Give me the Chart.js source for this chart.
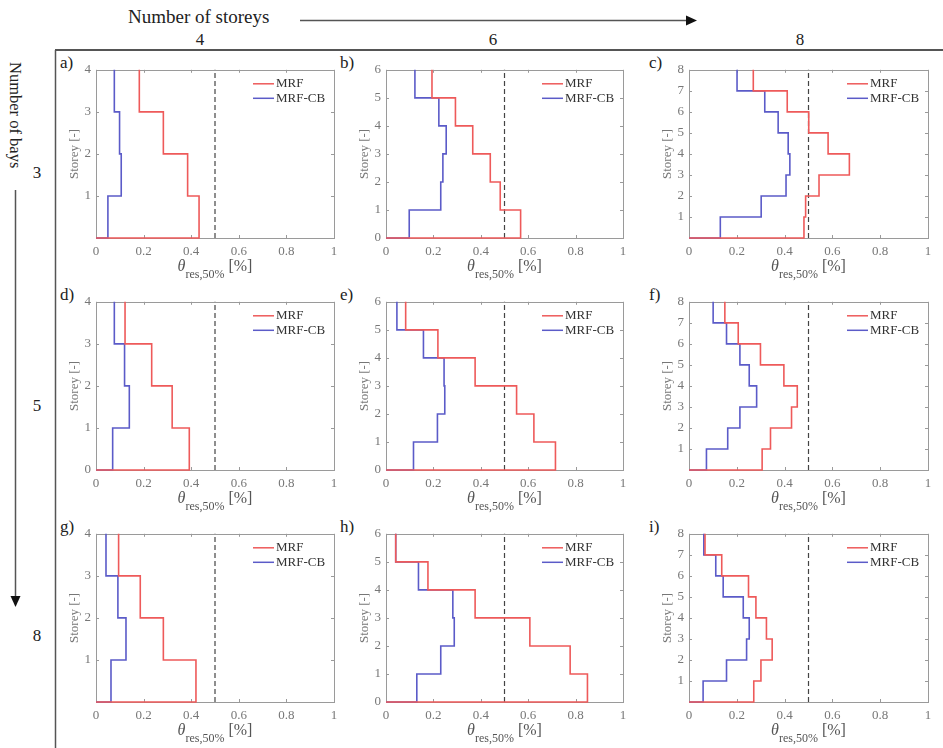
<!DOCTYPE html>
<html><head><meta charset="utf-8">
<script src="https://cdn.jsdelivr.net/npm/chart.js@4.4.0/dist/chart.umd.min.js"></script>
<style>
html,body{margin:0;padding:0;background:#fff;}
#fig{position:relative;width:943px;height:748px;overflow:hidden;font-family:"Liberation Serif","Times New Roman",serif;}
#fig canvas{position:absolute;}
#deco{position:absolute;left:0;top:0;}
</style></head><body><div id="fig"></div>
<script>
// ---------- data ----------
const storeyCounts = [4, 6, 8];          // columns
const bayCounts = [3, 5, 8];             // rows
const panelLetters = ['a)','b)','c)','d)','e)','f)','g)','h)','i)'];
const seriesNames = ['MRF', 'MRF-CB'];
const xTickLabels = ['0','0.2','0.4','0.6','0.8','1'];
const limitValue = 0.5;

// residual drift per storey (storey 1 .. n), 3 bays
const mrf_4s3b = [0.433, 0.385, 0.283, 0.182];
const cb_4s3b  = [0.050, 0.106, 0.099, 0.077];
const mrf_6s3b = [0.568, 0.482, 0.440, 0.366, 0.293, 0.194];
const cb_6s3b  = [0.098, 0.231, 0.240, 0.254, 0.223, 0.122];
const mrf_8s3b = [0.481, 0.488, 0.544, 0.671, 0.582, 0.501, 0.411, 0.269];
const cb_8s3b  = [0.131, 0.302, 0.406, 0.422, 0.415, 0.373, 0.317, 0.201];
// 5 bays
const mrf_4s5b = [0.392, 0.320, 0.234, 0.122];
const cb_4s5b  = [0.070, 0.140, 0.120, 0.077];
const mrf_6s5b = [0.715, 0.624, 0.551, 0.376, 0.219, 0.083];
const cb_6s5b  = [0.116, 0.217, 0.248, 0.245, 0.158, 0.046];
const mrf_8s5b = [0.306, 0.341, 0.429, 0.453, 0.397, 0.299, 0.206, 0.150];
const cb_8s5b  = [0.073, 0.162, 0.213, 0.283, 0.252, 0.213, 0.157, 0.101];
// 8 bays
const mrf_4s8b = [0.420, 0.283, 0.186, 0.095];
const cb_4s8b  = [0.063, 0.126, 0.092, 0.042];
const mrf_6s8b = [0.850, 0.777, 0.607, 0.376, 0.177, 0.041];
const cb_6s8b  = [0.130, 0.231, 0.288, 0.282, 0.137, 0.041];
const mrf_8s8b = [0.271, 0.301, 0.348, 0.324, 0.280, 0.249, 0.137, 0.067];
const cb_8s8b  = [0.059, 0.157, 0.241, 0.252, 0.227, 0.143, 0.112, 0.062];

const mrfSeries = [[mrf_4s3b, mrf_6s3b, mrf_8s3b],[mrf_4s5b, mrf_6s5b, mrf_8s5b],[mrf_4s8b, mrf_6s8b, mrf_8s8b]];
const cbSeries  = [[cb_4s3b, cb_6s3b, cb_8s3b],[cb_4s5b, cb_6s5b, cb_8s5b],[cb_4s8b, cb_6s8b, cb_8s8b]];
const zeroTickShown = [[false,true,false],[true,true,false],[false,true,false]];

// ---------- layout / style ----------
const colLeft = [96, 386, 689];
const colWidth = [238, 237, 239];
const rowTop = [69, 301, 533];
const plotH = 169;
const PAD_L = 60, PAD_T = 12, PAD_R = 14, PAD_B = 45;
const RED = '#ee5a5a', BLUE = '#5b5bc8';
const SERIF = '"Liberation Serif","Times New Roman",serif';
const fig = document.getElementById('fig');

// decorations (svg)
const svgNS = 'http://www.w3.org/2000/svg';
let svg = `<svg id="deco" xmlns="${svgNS}" width="943" height="748" font-family='${SERIF}' fill="#222">
<text x="128" y="23" font-size="19">Number of storeys</text>
<line x1="300" y1="20.5" x2="688" y2="20.5" stroke="#555" stroke-width="1.5"/>
<polygon points="686,15.5 697,20.5 686,25.5" fill="#111"/>
<line x1="55" y1="50" x2="943" y2="50" stroke="#555" stroke-width="2"/>
<line x1="55.5" y1="50" x2="55.5" y2="748" stroke="#555" stroke-width="1.5"/>
<text transform="translate(10,62) rotate(90)" font-size="16.5">Number of bays</text>
<line x1="15.5" y1="190" x2="15.5" y2="598" stroke="#555" stroke-width="1.5"/>
<polygon points="10.5,596 15.5,607 20.5,596" fill="#111"/>`;
const colLabelX = [200, 493, 800];
storeyCounts.forEach((s, i) => { svg += `<text x="${colLabelX[i]}" y="45" font-size="17" text-anchor="middle">${s}</text>`; });
const rowLabelY = [178, 411, 641];
bayCounts.forEach((b, i) => { svg += `<text x="37" y="${rowLabelY[i]}" font-size="17" text-anchor="middle">${b}</text>`; });
const letterX = [60, 340, 649];
for (let r = 0; r < 3; r++) for (let c = 0; c < 3; c++) {
  svg += `<text x="${letterX[c]}" y="${rowTop[r] - 1}" font-size="17">${panelLetters[r*3+c]}</text>`;
}
svg += '</svg>';
fig.insertAdjacentHTML('beforeend', svg);

// plugin: box with inward ticks, legend, x-axis title
const framePlugin = {
  id: 'matlabFrame',
  beforeDatasetsDraw(chart) {
    const {ctx, chartArea: a} = chart;
    const xs = chart.scales.x, ys = chart.scales.y;
    ctx.save();
    ctx.strokeStyle = '#9a9a9a';
    ctx.lineWidth = 1;
    ctx.strokeRect(Math.round(a.left) + 0.5, Math.round(a.top) + 0.5, Math.round(a.right - a.left), Math.round(a.bottom - a.top));
    ctx.beginPath();
    xs.ticks.forEach(t => {
      const px = Math.round(xs.getPixelForValue(t.value)) + 0.5;
      ctx.moveTo(px, a.bottom); ctx.lineTo(px, a.bottom - 3);
      ctx.moveTo(px, a.top); ctx.lineTo(px, a.top + 3);
    });
    ys.ticks.forEach(t => {
      const py = Math.round(ys.getPixelForValue(t.value)) + 0.5;
      ctx.moveTo(a.left, py); ctx.lineTo(a.left + 3, py);
      ctx.moveTo(a.right, py); ctx.lineTo(a.right - 3, py);
    });
    ctx.stroke();
    ctx.restore();
  },
  afterDraw(chart) {
    const {ctx, chartArea: a} = chart;
    ctx.save();
    // legend
    ctx.font = `13px ${SERIF}`;
    ctx.textBaseline = 'middle';
    ctx.textAlign = 'left';
    [0, 1].forEach(i => {
      const ds = chart.data.datasets[i];
      const y = a.top + 14 + i * 14.5;
      ctx.strokeStyle = ds.borderColor;
      ctx.lineWidth = 1.5;
      ctx.beginPath(); ctx.moveTo(a.right - 81, y); ctx.lineTo(a.right - 60, y); ctx.stroke();
      ctx.fillStyle = '#333';
      ctx.fillText(ds.label, a.right - 58, y);
    });
    // x title: θ_res,50% [%]
    ctx.textBaseline = 'alphabetic';
    ctx.fillStyle = '#555';
    const f1 = `italic 16px ${SERIF}`, f2 = `12px ${SERIF}`, f3 = `16px ${SERIF}`;
    ctx.font = f1; const w1 = ctx.measureText('θ').width;
    ctx.font = f2; const w2 = ctx.measureText('res,50%').width;
    ctx.font = f3; const w3 = ctx.measureText(' [%]').width;
    let x = (a.left + a.right) / 2 - (w1 + w2 + w3) / 2;
    const base = a.bottom + 33;
    ctx.font = f1; ctx.fillText('θ', x, base); x += w1;
    ctx.font = f2; ctx.fillText('res,50%', x, base + 7); x += w2;
    ctx.font = f3; ctx.fillText(' [%]', x, base);
    ctx.restore();
  }
};

function stepPoints(values) {
  return [{x: 0, y: 0}].concat(values.map((v, i) => ({x: v, y: i + 1})));
}

for (let r = 0; r < 3; r++) {
  for (let c = 0; c < 3; c++) {
    const n = storeyCounts[c];
    const W = colWidth[c];
    const cv = document.createElement('canvas');
    cv.width = W + PAD_L + PAD_R;
    cv.height = plotH + PAD_T + PAD_B;
    cv.style.left = (colLeft[c] - PAD_L) + 'px';
    cv.style.top = (rowTop[r] - PAD_T) + 'px';
    fig.appendChild(cv);
    const showZero = zeroTickShown[r][c];
    new Chart(cv, {
      type: 'scatter',
      data: {
        datasets: [
          {label: seriesNames[0], data: stepPoints(mrfSeries[r][c]), showLine: true, stepped: 'before',
           borderColor: RED, borderWidth: 1.6, pointRadius: 0, clip: false},
          {label: seriesNames[1], data: stepPoints(cbSeries[r][c]), showLine: true, stepped: 'before',
           borderColor: BLUE, borderWidth: 1.6, pointRadius: 0, clip: false},
          {label: 'limit', data: [{x: limitValue, y: 0}, {x: limitValue, y: n}], showLine: true,
           borderColor: '#444', borderWidth: 1.2, borderDash: [5, 3], pointRadius: 0, clip: false}
        ]
      },
      options: {
        responsive: false, animation: false, devicePixelRatio: 1,
        layout: {padding: {left: 0, top: PAD_T, right: PAD_R, bottom: 0}},
        plugins: {legend: {display: false}, tooltip: {enabled: false}},
        events: [],
        scales: {
          x: {
            type: 'linear', min: 0, max: 1,
            afterFit: s => { s.height = PAD_B; },
            grid: {display: false, drawTicks: false}, border: {display: false},
            ticks: {stepSize: 0.2, padding: 6, color: '#777', maxRotation: 0,
                    font: {family: SERIF, size: 13},
                    callback: (v, i) => xTickLabels[i]}
          },
          y: {
            type: 'linear', min: 0, max: n,
            afterFit: s => { s.width = PAD_L; },
            grid: {display: false, drawTicks: false}, border: {display: false},
            ticks: {stepSize: 1, padding: 5, color: '#777', font: {family: SERIF, size: 13},
                    callback: v => (v === 0 && !showZero) ? '' : String(v)},
            title: {display: true, text: 'Storey [-]', color: '#777', font: {family: SERIF, size: 13},
                    padding: {top: 31, bottom: 0}}
          }
        }
      },
      plugins: [framePlugin]
    });
  }
}
</script>
</body></html>
